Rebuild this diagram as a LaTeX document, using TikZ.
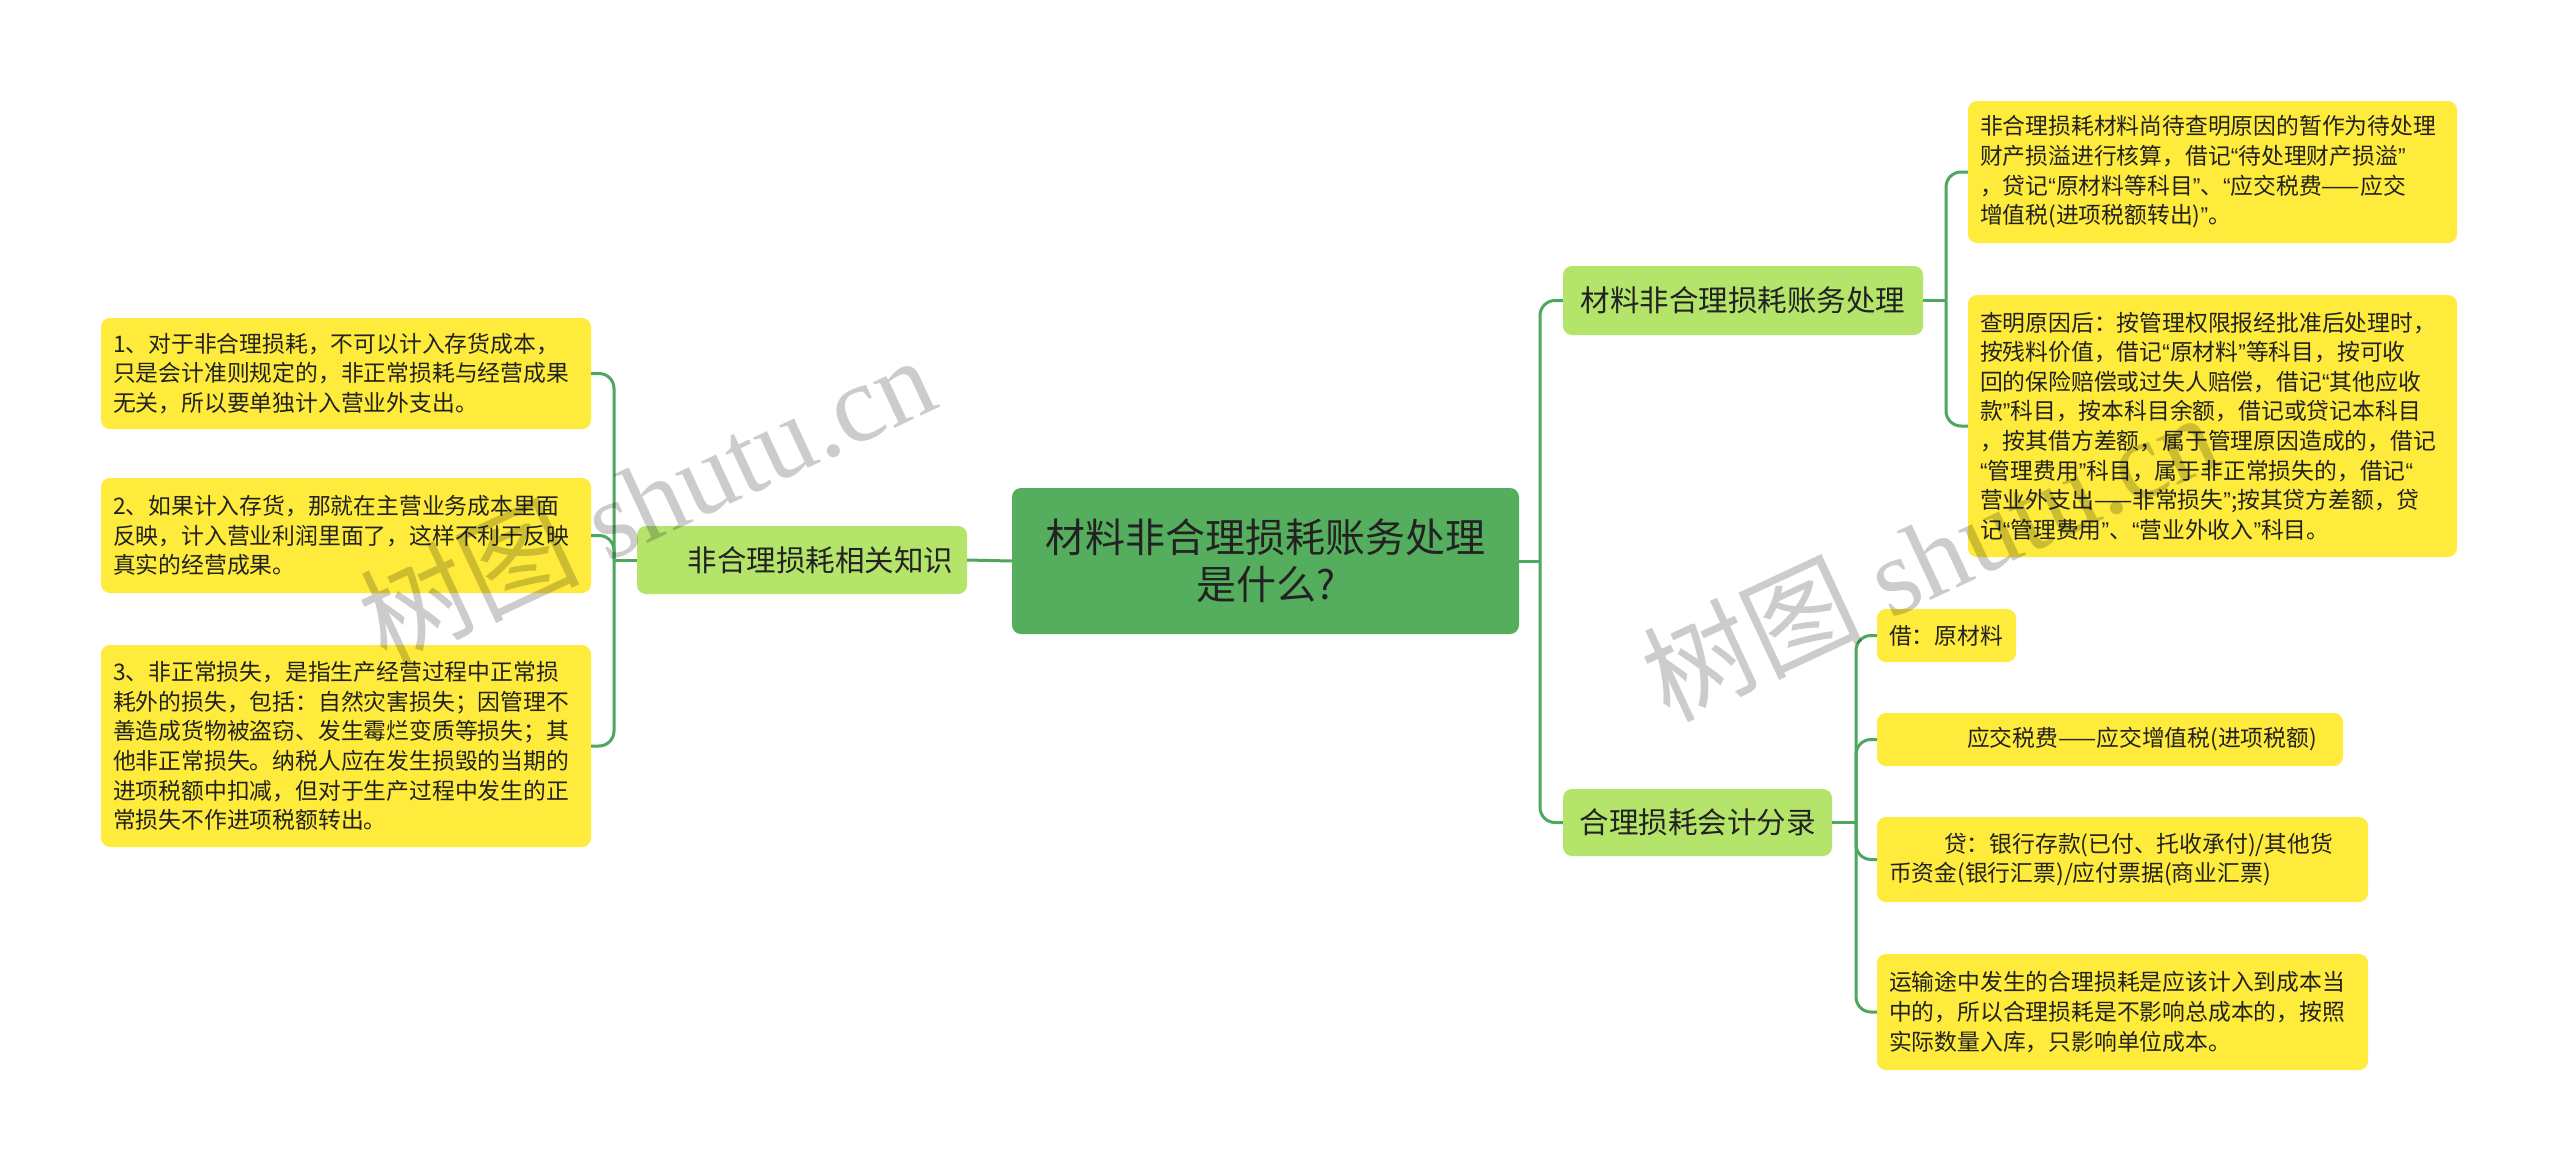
\documentclass[tikz,border=0pt]{standalone}
\usepackage{fontspec}
\setmainfont{Noto Sans CJK SC}
\newfontfamily\wmcjk{Noto Sans CJK SC}
\newfontfamily\wmlat{Liberation Serif}
\newfontfamily\qfont{Liberation Sans}
\newcommand\myoq{{\qfont “}}
\newcommand\mycq{{\qfont ”}}
\definecolor{rootfill}{HTML}{55AE5D}
\definecolor{branchfill}{HTML}{B5E46B}
\definecolor{leaffill}{HTML}{FFEB3B}
\definecolor{linecol}{HTML}{4EA75E}
\definecolor{txt}{HTML}{222222}
\tikzset{
  box/.style={rounded corners=9pt, inner ysep=0pt, text=txt},
  rootbox/.style={box, fill=rootfill, font=\fontsize{40}{47}\selectfont, align=center},
  branchbox/.style={box, fill=branchfill, font=\fontsize{29.5}{35}\selectfont, align=center},
  leafbox/.style={box, fill=leaffill, font=\fontsize{22.8}{29.6}\selectfont, align=left, inner xsep=12pt},
  conn/.style={draw=linecol, line width=3pt},
  elbow/.style={conn, rounded corners=15pt},
  wm/.style={rotate=25, text=black, opacity=0.2, inner sep=0pt}
}
\begin{document}
\begin{tikzpicture}[x=1pt,y=-1pt]
\fill[white] (0,0) rectangle (2560,1165);
\useasboundingbox (0,0) rectangle (2560,1165);

% root and branches
\node[rootbox, minimum width=507pt, minimum height=146pt] (root) at (1265.5,561) {材料非合理损耗账务处理\\是什么?};
\node[branchbox, minimum width=330pt, minimum height=68pt, text width=302pt, align=right, inner xsep=14pt] (L) at (802,560) {非合理损耗相关知识};
\node[branchbox, minimum width=360pt, minimum height=69pt] (B1) at (1743,300.5) {材料非合理损耗账务处理};
\node[branchbox, minimum width=269pt, minimum height=67pt] (B2) at (1697.5,822.5) {合理损耗会计分录};

% left leaves
\node[leafbox, minimum width=490pt, minimum height=111pt, text width=466pt] (l1) at (346,373.5) {1、对于非合理损耗，不可以计入存货成本，\\只是会计准则规定的，非正常损耗与经营成果\\无关，所以要单独计入营业外支出。};
\node[leafbox, minimum width=490pt, minimum height=115pt, text width=466pt] (l2) at (346,535.5) {2、如果计入存货，那就在主营业务成本里面\\反映，计入营业利润里面了，这样不利于反映\\真实的经营成果。};
\node[leafbox, minimum width=490pt, minimum height=202pt, text width=466pt] (l3) at (346,746) {3、非正常损失，是指生产经营过程中正常损\\耗外的损失，包括：自然灾害损失；因管理不\\善造成货物被盗窃、发生霉烂变质等损失；其\\他非正常损失。纳税人应在发生损毁的当期的\\进项税额中扣减，但对于生产过程中发生的正\\常损失不作进项税额转出。};

% right leaves of B1
\node[leafbox, minimum width=489pt, minimum height=142pt, text width=465pt] (a) at (2212.5,172) {非合理损耗材料尚待查明原因的暂作为待处理\\财产损溢进行核算，借记\myoq 待处理财产损溢\mycq\\，贷记\myoq 原材料等科目\mycq 、\myoq 应交税费——应交\\增值税(进项税额转出)\mycq 。};
\node[leafbox, minimum width=489pt, minimum height=262pt, text width=465pt] (b) at (2212.5,426) {查明原因后：按管理权限报经批准后处理时，\\按残料价值，借记\myoq 原材料\mycq 等科目，按可收\\回的保险赔偿或过失人赔偿，借记\myoq 其他应收\\款\mycq 科目，按本科目余额，借记或贷记本科目\\，按其借方差额，属于管理原因造成的，借记\\\myoq 管理费用\mycq 科目，属于非正常损失的，借记\myoq\\营业外支出——非常损失\mycq ;按其贷方差额，贷\\记\myoq 管理费用\mycq 、\myoq 营业外收入\mycq 科目。};

% right leaves of B2
\node[leafbox, minimum width=139pt, minimum height=53pt, text width=115pt] (c) at (1946.5,635.5) {借：原材料};
\node[leafbox, minimum width=466pt, minimum height=53pt, text width=442pt] (d) at (2110,739.5) {\hspace*{78pt}应交税费——应交增值税(进项税额)};
\node[leafbox, minimum width=491pt, minimum height=85pt, text width=467pt] (e) at (2122.5,859.5) {\hspace*{55pt}贷：银行存款(已付、托收承付)/其他货\\币资金(银行汇票)/应付票据(商业汇票)};
\node[leafbox, minimum width=491pt, minimum height=116pt, text width=467pt] (f) at (2122.5,1012) {运输途中发生的合理损耗是应该计入到成本当\\中的，所以合理损耗是不影响总成本的，按照\\实际数量入库，只影响单位成本。};

% junctions
\coordinate (jR) at (1540,561);
\coordinate (jL) at (614,560);
\coordinate (j1) at (1946,300.5);
\coordinate (j2) at (1856,822.5);

% connectors
\draw[conn] (root.west) -- (L.east);
\draw[conn] (root.east) -- (jR);
\draw[elbow] (jR) |- (B1.west);
\draw[elbow] (jR) |- (B2.west);
\draw[conn] (L.west) -- (jL);
\draw[elbow] (jL) |- (l1.east);
\draw[elbow] (jL) |- (l2.east);
\draw[elbow] (jL) |- (l3.east);
\draw[conn] (B1.east) -- (j1);
\draw[elbow] (j1) |- (a.west);
\draw[elbow] (j1) |- (b.west);
\draw[conn] (B2.east) -- (j2);
\draw[elbow] (j2) |- (c.west);
\draw[elbow] (j2) |- (d.west);
\draw[elbow] (j2) |- (e.west);
\draw[elbow] (j2) |- (f.west);

% watermarks
\node[wm, font=\fontsize{110}{120}\selectfont] (wm1) at (646,498) {{\wmcjk 树图} {\wmlat shutu.cn}};
\node[wm, font=\fontsize{110}{120}\selectfont] (wm2) at (1929,555) {{\wmcjk 树图} {\wmlat shutu.cn}};
\end{tikzpicture}
\end{document}
